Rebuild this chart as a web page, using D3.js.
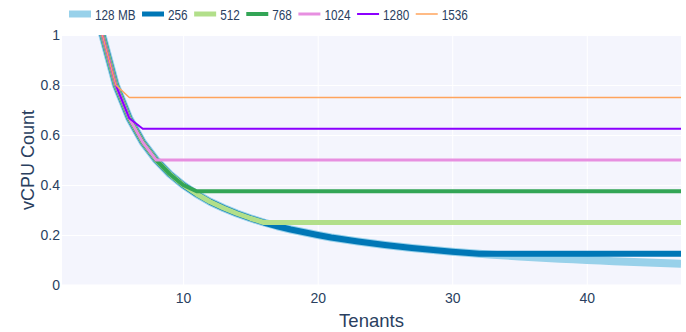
<!DOCTYPE html>
<html>
<head>
<meta charset="utf-8">
<script src="https://cdn.jsdelivr.net/npm/d3@7"></script>
<style>
  html, body { margin: 0; padding: 0; background: #fff; }
  svg { display: block; font-family: "Liberation Sans", Arial, sans-serif; }
</style>
</head>
<body>
<svg id="chart" width="686" height="332"></svg>
<script>
// Tenants per host and vCPU share for each memory size
const tenants = [1,2,3,4,5,6,7,8,9,10,11,12,13,14,15,16,17,18,19,20,21,22,23,24,25,26,27,28,29,30,31,32,33,34,35,36,37,38,39,40,41,42,43,44,45,46,47];

const mem128  = [4,2,1.333,1,0.8,0.667,0.571,0.5,0.444,0.4,0.364,0.333,0.308,0.286,0.267,0.25,0.235,0.222,0.211,0.2,0.19,0.182,0.174,0.167,0.16,0.154,0.148,0.143,0.138,0.133,0.129,0.125,0.121,0.118,0.114,0.111,0.108,0.105,0.103,0.1,0.098,0.095,0.093,0.091,0.089,0.087,0.085];
const mem256  = [4,2,1.333,1,0.8,0.667,0.571,0.5,0.444,0.4,0.364,0.333,0.308,0.286,0.267,0.25,0.235,0.222,0.211,0.2,0.19,0.182,0.174,0.167,0.16,0.154,0.148,0.143,0.138,0.133,0.129,0.125,0.125,0.125,0.125,0.125,0.125,0.125,0.125,0.125,0.125,0.125,0.125,0.125,0.125,0.125,0.125];
const mem512  = [4,2,1.333,1,0.8,0.667,0.571,0.5,0.444,0.4,0.364,0.333,0.308,0.286,0.267,0.25,0.25,0.25,0.25,0.25,0.25,0.25,0.25,0.25,0.25,0.25,0.25,0.25,0.25,0.25,0.25,0.25,0.25,0.25,0.25,0.25,0.25,0.25,0.25,0.25,0.25,0.25,0.25,0.25,0.25,0.25,0.25];
const mem768  = [4,2,1.333,1,0.8,0.667,0.571,0.5,0.444,0.4,0.375,0.375,0.375,0.375,0.375,0.375,0.375,0.375,0.375,0.375,0.375,0.375,0.375,0.375,0.375,0.375,0.375,0.375,0.375,0.375,0.375,0.375,0.375,0.375,0.375,0.375,0.375,0.375,0.375,0.375,0.375,0.375,0.375,0.375,0.375,0.375,0.375];
const mem1024 = [4,2,1.333,1,0.8,0.667,0.571,0.5,0.5,0.5,0.5,0.5,0.5,0.5,0.5,0.5,0.5,0.5,0.5,0.5,0.5,0.5,0.5,0.5,0.5,0.5,0.5,0.5,0.5,0.5,0.5,0.5,0.5,0.5,0.5,0.5,0.5,0.5,0.5,0.5,0.5,0.5,0.5,0.5,0.5,0.5,0.5];
const mem1280 = [4,2,1.333,1,0.8,0.667,0.625,0.625,0.625,0.625,0.625,0.625,0.625,0.625,0.625,0.625,0.625,0.625,0.625,0.625,0.625,0.625,0.625,0.625,0.625,0.625,0.625,0.625,0.625,0.625,0.625,0.625,0.625,0.625,0.625,0.625,0.625,0.625,0.625,0.625,0.625,0.625,0.625,0.625,0.625,0.625,0.625];
const mem1536 = [4,2,1.333,1,0.8,0.75,0.75,0.75,0.75,0.75,0.75,0.75,0.75,0.75,0.75,0.75,0.75,0.75,0.75,0.75,0.75,0.75,0.75,0.75,0.75,0.75,0.75,0.75,0.75,0.75,0.75,0.75,0.75,0.75,0.75,0.75,0.75,0.75,0.75,0.75,0.75,0.75,0.75,0.75,0.75,0.75,0.75];

const seriesNames = ["128 MB","256","512","768","1024","1280","1536"];
const seriesValues = [mem128, mem256, mem512, mem768, mem1024, mem1280, mem1536];
const xTicks = [10, 20, 30, 40];
const yTicks = [0, 0.2, 0.4, 0.6, 0.8, 1];

// styling
const colors = ["#98d1ea", "#0077b6", "#b2df8a", "#33a556", "#e78fe0", "#8b00ff", "#ffa45c"];
const widths = [8, 6, 5, 4, 3, 2, 1.5];
const legendWidths = [7, 5, 5, 4, 3, 2, 1.5];
const textColor = "#2a3f5f";

const margin = { left: 62, right: 5, top: 35, bottom: 47 };
const W = 686, H = 332;
const svg = d3.select("#chart");

const x = d3.scaleLinear().domain([1, 47]).range([margin.left, W - margin.right]);
const y = d3.scaleLinear().domain([0, 1]).range([H - margin.bottom, margin.top]);

// plot background
svg.append("rect")
  .attr("x", x.range()[0]).attr("y", y.range()[1])
  .attr("width", x.range()[1] - x.range()[0])
  .attr("height", y.range()[0] - y.range()[1])
  .attr("fill", "#f4f5fd");

svg.append("clipPath").attr("id", "plotclip").append("rect")
  .attr("x", x.range()[0]).attr("y", y.range()[1])
  .attr("width", x.range()[1] - x.range()[0])
  .attr("height", y.range()[0] - y.range()[1]);

// grid lines
const xAxis = d3.axisBottom(x).tickValues(xTicks).tickSize(-(y.range()[0] - y.range()[1])).tickFormat(d3.format("d"));
const gx = svg.append("g").attr("transform", `translate(0,${y.range()[0]})`).call(xAxis);
gx.select(".domain").remove();
gx.selectAll(".tick line").attr("stroke", "#ffffff").attr("stroke-width", 1);
gx.selectAll(".tick text").attr("fill", textColor).attr("font-size", 14).attr("dy", null).attr("y", 18);

const yAxis = d3.axisLeft(y).tickValues(yTicks).tickSize(-(x.range()[1] - x.range()[0])).tickFormat(d => d3.format("")(+d.toFixed(1)));
const gy = svg.append("g").attr("transform", `translate(${x.range()[0]},0)`).call(yAxis);
gy.select(".domain").remove();
gy.selectAll(".tick line").attr("stroke", "#ffffff").attr("stroke-width", 1);
gy.selectAll(".tick text").attr("fill", textColor).attr("font-size", 14).attr("x", -2).attr("dy", "0.35em");
gy.selectAll(".tick").filter(d => d === 0).select("line").attr("stroke-width", 2);

// series lines
const line = d3.line().x((d, i) => x(tenants[i])).y(d => y(d));
const lines = svg.append("g").attr("clip-path", "url(#plotclip)");
seriesValues.forEach((vals, i) => {
  lines.append("path")
    .datum(vals)
    .attr("d", line)
    .attr("fill", "none")
    .attr("stroke", colors[i])
    .attr("stroke-width", widths[i])
    .attr("stroke-linejoin", "round");
});

// axis titles
svg.append("text")
  .attr("x", (x.range()[0] + x.range()[1]) / 2).attr("y", 327)
  .attr("text-anchor", "middle").attr("fill", textColor).attr("font-size", 18.5)
  .text("Tenants");
svg.append("text")
  .attr("transform", `translate(34,${(y.range()[0] + y.range()[1]) / 2}) rotate(-90)`)
  .attr("text-anchor", "middle").attr("fill", textColor).attr("font-size", 18)
  .text("vCPU Count");

// horizontal legend, labels set in a condensed width
const legend = svg.append("g").attr("transform", "translate(69,0)");
let cursor = 0;
seriesNames.forEach((name, i) => {
  const item = legend.append("g").attr("transform", `translate(${cursor},0)`);
  item.append("line")
    .attr("x1", 0).attr("x2", 22).attr("y1", 14).attr("y2", 14)
    .attr("stroke", colors[i]).attr("stroke-width", legendWidths[i]);
  const t = item.append("text")
    .attr("x", 26).attr("y", 19.5).attr("fill", textColor).attr("font-size", 14)
    .text(name);
  const narrow = t.node().getComputedTextLength() * 0.84;
  t.attr("textLength", narrow).attr("lengthAdjust", "spacingAndGlyphs");
  cursor += 26 + narrow + 6.5;
});
</script>
</body>
</html>
